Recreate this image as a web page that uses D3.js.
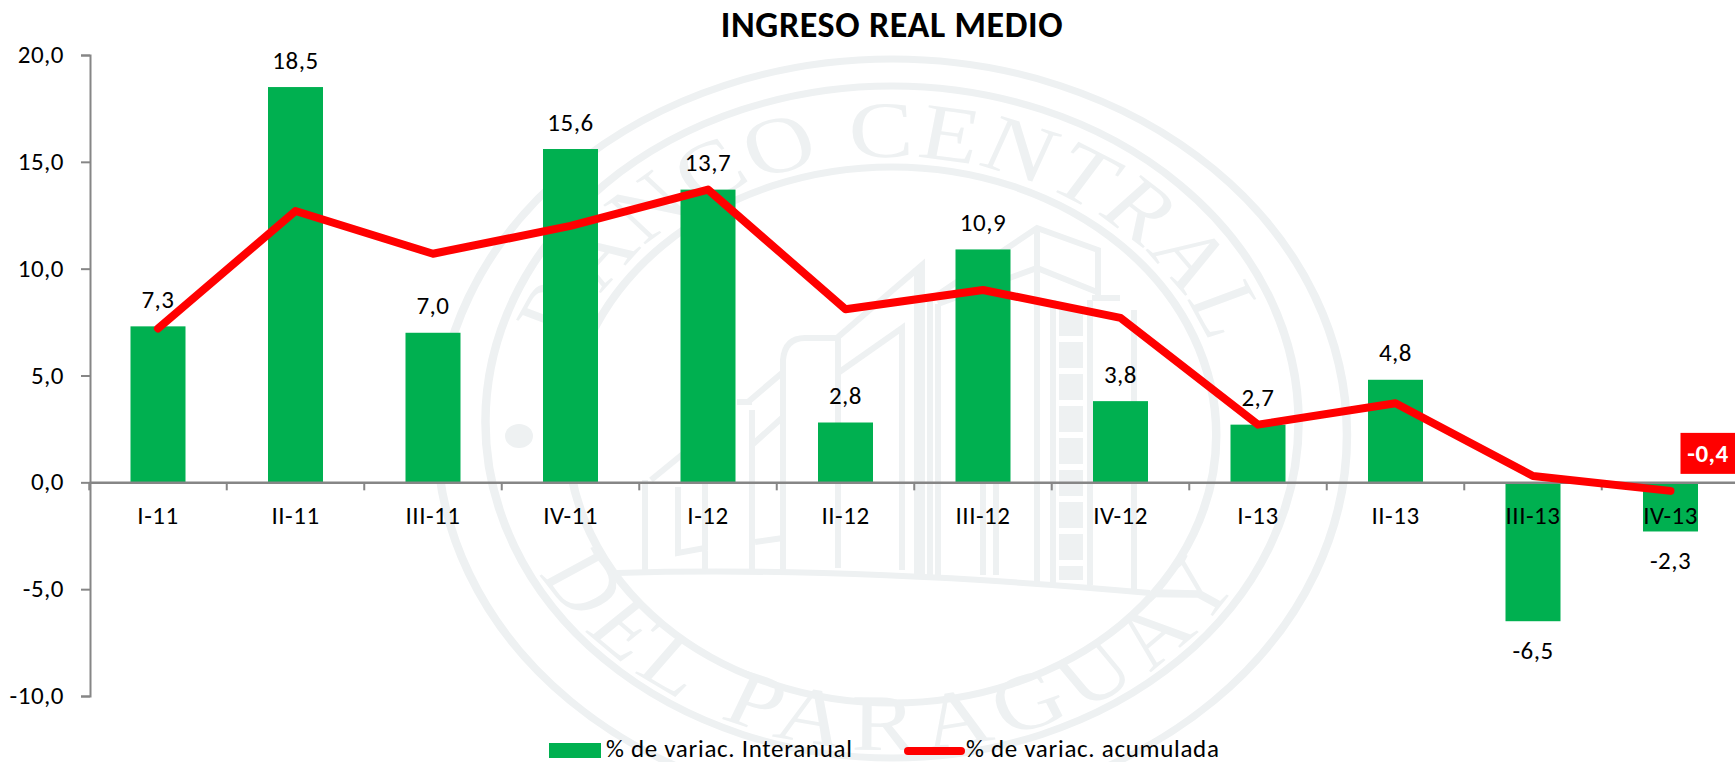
<!DOCTYPE html>
<html><head><meta charset="utf-8">
<script src="https://cdn.jsdelivr.net/npm/d3@7/dist/d3.min.js"></script>
<style>html,body{margin:0;padding:0;background:#fff;overflow:hidden}svg{display:block}text{font-family:Carlito,Lato,sans-serif;fill:#000}</style>
</head><body><svg id="c" width="1735" height="762"></svg>
<script>
const categories = ["I-11","II-11","III-11","IV-11","I-12","II-12","III-12","IV-12","I-13","II-13","III-13","IV-13"];
const interanual = [7.3,18.5,7.0,15.6,13.7,2.8,10.9,3.8,2.7,4.8,-6.5,-2.3];
const acumulada = [7.2,12.7,10.7,12.0,13.7,8.1,9.0,7.7,2.7,3.7,0.3,-0.4];
const yTicks = [-10,-5,0,5,10,15,20];
const titleText = "INGRESO REAL MEDIO";
const seriesNames = ["% de variac. Interanual","% de variac. acumulada"];
const wmRingRadii = [376,336,268];
const wmRingShift = [0,-13,0];
const wmLines = [
"M617 573Q850 566 1150 593",
"M930 300V578M938 304V578","M930 300L1037 228L1098 250V300","M938 304L1037 268L1097 292",
"M1037 228V582","M917 270V575M983 575V250M996 575V250",
"M1092 298H1120M1134 310V590","M1053 300V585M1090 300V585",
"M838 337L922 265V575M838 373L902 328V570M838 337V568",
"M783 570V360Q785 338 805 338H838","M748 402L782 373M752 410V570M752 445L783 417M737 402H752",
"M645 480V570M651 480L700 440","M678 487V553L705 548V480M705 548V570","M755 542L783 538"
];
const wmLadder = "M1071 310V580";

const fmt = d3.formatLocale({decimal:",",thousands:".",grouping:[3],currency:["",""],minus:"-"}).format(".1f");
const svg = d3.select("#c");
const wmColor = "#eef1f2", green = "#00B050", red = "#FF0000", axisColor = "#868686";
const left = 89.25, step = 137.5;
const x = d3.scaleBand().domain(categories).range([left,left+step*categories.length]).paddingInner(.6).paddingOuter(.3);
const y = d3.scaleLinear().domain([-10,20]).range([696,55]);
const cx = c => x(c)+x.bandwidth()/2;
const lab = s => s.style("font-size","25px").style("letter-spacing","0.5px");

// watermark
const wm = svg.append("g").attr("class","wm");
const seal = wm.append("g").attr("transform","translate(892,435) scale(1.21,1)");
const defs = svg.append("defs");
defs.append("path").attr("id","arcTop").attr("d","M -278 0 A 278 278 0 0 1 278 0");
defs.append("path").attr("id","arcBot").attr("d","M -328 -13 A 328 328 0 0 0 328 -13");
seal.selectAll("circle").data(wmRingRadii).join("circle").attr("r",d=>d).attr("cy",(d,i)=>wmRingShift[i]).attr("fill","none").attr("stroke",wmColor).attr("stroke-width",7);
seal.append("text").style("font-family","Liberation Serif").style("fill",wmColor).style("font-size","80px").style("letter-spacing","1.5px")
  .append("textPath").attr("href","#arcTop").attr("startOffset","50%").attr("text-anchor","middle").text("BANCO CENTRAL");
seal.append("text").style("font-family","Liberation Serif").style("fill",wmColor).style("font-size","80px").style("letter-spacing","9.5px")
  .append("textPath").attr("href","#arcBot").attr("startOffset","50%").attr("text-anchor","middle").text("DEL PARAGUAY");
wm.selectAll("path.l").data(wmLines).join("path").attr("class","l").attr("d",d=>d).attr("fill","none").attr("stroke",wmColor).attr("stroke-width",6);
wm.append("path").attr("d",wmLadder).attr("fill","none").attr("stroke",wmColor).attr("stroke-width",24).attr("stroke-dasharray","26 6");
wm.append("ellipse").attr("cx",519).attr("cy",436).attr("rx",14).attr("ry",12).attr("fill",wmColor);

// bars
svg.append("g").selectAll("rect").data(categories).join("rect")
  .attr("x",d=>x(d)).attr("width",x.bandwidth())
  .attr("y",(d,i)=>y(Math.max(0,interanual[i])))
  .attr("height",(d,i)=>Math.abs(y(interanual[i])-y(0)))
  .attr("fill",green);

// y axis
const ay = svg.append("g").attr("transform","translate(90,0)")
  .call(d3.axisLeft(y).tickValues(yTicks).tickFormat(fmt).tickSize(9).tickPadding(17));
ay.selectAll("path,line").attr("stroke",axisColor).attr("stroke-width",2);
ay.selectAll("text").call(lab).attr("dy","0.3em");

// x axis
const ax = svg.append("g").attr("transform",`translate(0,${y(0)})`)
  .call(d3.axisBottom(x).tickSize(0).tickPadding(34.5));
ax.select("path").attr("stroke",axisColor).attr("stroke-width",2.5);
ax.selectAll("text").call(lab).attr("dy","0.3em");
ax.selectAll("line.b").data(d3.range(categories.length+1)).join("line").attr("class","b")
  .attr("x1",i=>left+i*step).attr("x2",i=>left+i*step).attr("y1",0).attr("y2",8)
  .attr("stroke",axisColor).attr("stroke-width",2);

// line
const line = d3.line().x((d,i)=>cx(categories[i])).y(d=>y(d));
svg.append("path").attr("d",line(acumulada)).attr("fill","none").attr("stroke",red)
  .attr("stroke-width",8).attr("stroke-linecap","round").attr("stroke-linejoin","round");

// bar labels
svg.append("g").selectAll("text").data(categories).join("text")
  .attr("x",d=>cx(d)).attr("text-anchor","middle")
  .attr("y",(d,i)=>interanual[i]>=0?y(interanual[i])-18.5:y(interanual[i])+38)
  .call(lab).text((d,i)=>fmt(interanual[i]));

// end label
const lastC = categories[categories.length-1], lastV = acumulada[acumulada.length-1];
const lx = cx(lastC)+37.5, lw = 55, lh = 41;
svg.append("rect").attr("x",lx-lw/2).attr("y",y(lastV)-58).attr("width",lw).attr("height",lh).attr("fill",red);
svg.append("text").attr("x",lx).attr("y",y(lastV)-29).attr("text-anchor","middle").call(lab).style("font-weight","700").style("fill","#fff").text(fmt(lastV));

// title
svg.append("text").attr("x",892).attr("y",37).attr("text-anchor","middle").style("font-size","36px").style("letter-spacing","0.6px").style("font-weight","700").text(titleText);

// legend
svg.append("rect").attr("x",549).attr("y",743).attr("width",52).attr("height",15).attr("fill",green);
svg.append("text").attr("x",606).attr("y",757).call(lab).style("letter-spacing","0.7px").text(seriesNames[0]);
svg.append("line").attr("x1",908).attr("x2",961).attr("y1",751).attr("y2",751).attr("stroke",red).attr("stroke-width",8).attr("stroke-linecap","round");
svg.append("text").attr("x",966).attr("y",757).call(lab).style("letter-spacing","0.7px").text(seriesNames[1]);
</script></body></html>
